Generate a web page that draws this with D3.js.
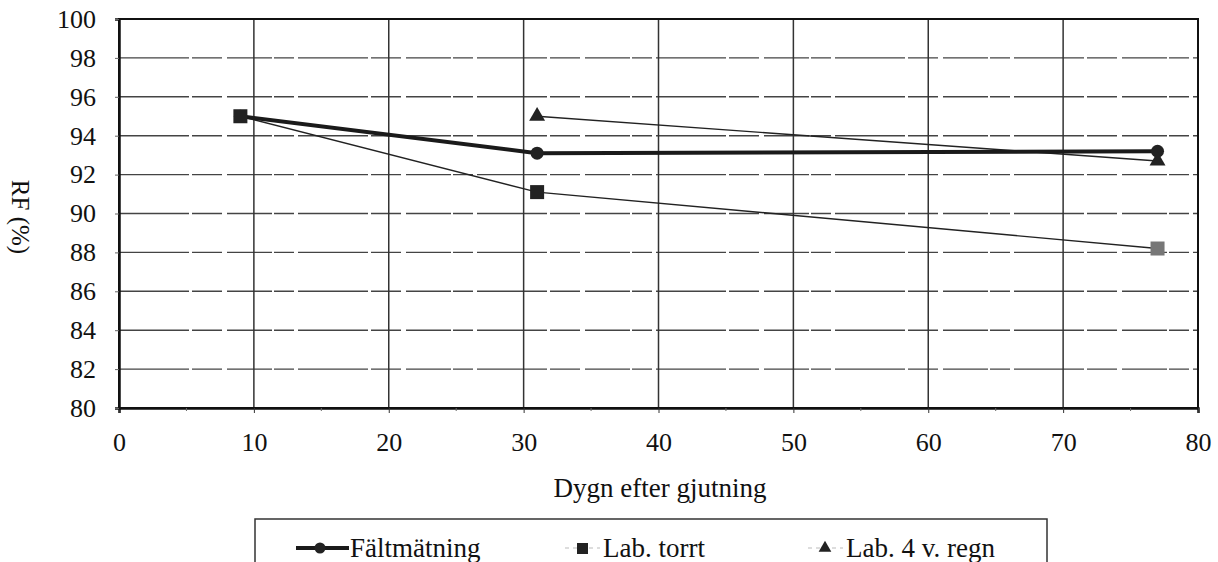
<!DOCTYPE html>
<html>
<head>
<meta charset="utf-8">
<script src="https://cdn.jsdelivr.net/npm/d3@7"></script>
<style>
  body { margin: 0; background: #fff; }
  svg text { font-family: "Liberation Serif", "Times New Roman", serif !important; fill: #111; }
</style>
</head>
<body>
<svg id="chart" width="1218" height="562"></svg>
<script>
const xTicks = [0, 10, 20, 30, 40, 50, 60, 70, 80];
const yTicks = [80, 82, 84, 86, 88, 90, 92, 94, 96, 98, 100];

const faltDays = [9, 31, 77];
const faltRF = [95.0, 93.1, 93.2];

const torrtDays = [9, 31, 77];
const torrtRF = [95.0, 91.1, 88.2];

const regnDays = [31, 77];
const regnRF = [95.0, 92.7];

const seriesNames = ["Fältmätning", "Lab. torrt", "Lab. 4 v. regn"];
const xTitle = "Dygn efter gjutning";
const yTitle = "RF (%)";

const svg = d3.select("#chart");
const L = 119, R = 1198, T = 19, B = 408;
const x = d3.scaleLinear().domain([0, 80]).range([L, R]);
const y = d3.scaleLinear().domain([80, 100]).range([B, T]);
const serif = "'Liberation Serif', 'Times New Roman', serif";

// horizontal gridlines
svg.append("g").selectAll("line").data(yTicks.filter(d => d > 80 && d < 100)).join("line")
  .attr("x1", L).attr("x2", R).attr("y1", d => y(d)).attr("y2", d => y(d))
  .attr("stroke", "#444").attr("stroke-width", 1.4)
  .attr("stroke-dasharray", "70,3,30,5,45,2,20,4");
// vertical gridlines
svg.append("g").selectAll("line").data(xTicks.filter(d => d > 0 && d < 80)).join("line")
  .attr("y1", T).attr("y2", B).attr("x1", d => x(d)).attr("x2", d => x(d))
  .attr("stroke", "#333").attr("stroke-width", 1.5);

// border
svg.append("rect").attr("x", L).attr("y", T).attr("width", R - L).attr("height", B - T)
  .attr("fill", "none").attr("stroke", "#111").attr("stroke-width", 2);

// axes
const xAxis = d3.axisBottom(x).tickValues(xTicks).tickSize(5).tickFormat(d3.format("d"));
const gx = svg.append("g").attr("transform", `translate(0,${B})`).call(xAxis)
  .attr("font-family", serif).attr("font-size", 26);
gx.select(".domain").attr("stroke", "#111").attr("stroke-width", 2.5);
gx.selectAll(".tick line").attr("stroke", "#333");
gx.selectAll(".tick text").attr("dy", "1.35em").style("font-family", serif).style("font-size", "26px");
// minor x ticks
svg.append("g").selectAll("line").data(d3.range(5, 80, 10)).join("line")
  .attr("x1", d => x(d)).attr("x2", d => x(d)).attr("y1", B).attr("y2", B + 3)
  .attr("stroke", "#666");

const yAxis = d3.axisLeft(y).tickValues(yTicks).tickSize(4).tickPadding(19);
const gy = svg.append("g").attr("transform", `translate(${L},0)`).call(yAxis)
  .attr("font-family", serif).attr("font-size", 26);
gy.select(".domain").attr("stroke", "#111").attr("stroke-width", 2.5);
gy.selectAll(".tick line").attr("stroke", "#666");
gy.selectAll(".tick text").style("font-family", serif).style("font-size", "26px");

// titles
svg.append("text").attr("x", 660).attr("y", 497).attr("text-anchor", "middle")
  .style("font-family", serif).style("font-size", "27px").text(xTitle);
svg.append("text").attr("transform", "translate(12,217) rotate(90)")
  .attr("text-anchor", "middle").style("font-family", serif).style("font-size", "25px").text(yTitle);

// lines
const line = d3.line().x(d => x(d[0])).y(d => y(d[1]));
const falt = faltDays.map((d, i) => [d, faltRF[i]]);
const torrt = torrtDays.map((d, i) => [d, torrtRF[i]]);
const regn = regnDays.map((d, i) => [d, regnRF[i]]);

svg.append("path").datum(regn).attr("d", line).attr("fill", "none")
  .attr("stroke", "#222").attr("stroke-width", 1.4);
svg.append("path").datum(torrt).attr("d", line).attr("fill", "none")
  .attr("stroke", "#222").attr("stroke-width", 1.4);
svg.append("path").datum(falt).attr("d", line).attr("fill", "none")
  .attr("stroke", "#1a1a1a").attr("stroke-width", 4);

// markers
svg.append("g").selectAll("circle").data(falt).join("circle")
  .attr("cx", d => x(d[0])).attr("cy", d => y(d[1])).attr("r", 6.5)
  .attr("fill", "#222");
svg.append("g").selectAll("rect").data(torrt).join("rect")
  .attr("x", d => x(d[0]) - 7).attr("y", d => y(d[1]) - 7)
  .attr("width", 14).attr("height", 14)
  .attr("fill", (d, i) => i === torrt.length - 1 ? "#777" : "#222");
const tri = d3.symbol().type(d3.symbolTriangle).size(110);
svg.append("g").selectAll("path").data(regn).join("path")
  .attr("transform", d => `translate(${x(d[0])},${y(d[1])})`)
  .attr("d", tri).attr("fill", "#222");

// legend
const lg = svg.append("g");
lg.append("rect").attr("x", 255).attr("y", 519).attr("width", 792).attr("height", 60)
  .attr("fill", "none").attr("stroke", "#333").attr("stroke-width", 1.5);
const ly = 548;
lg.append("line").attr("x1", 296).attr("x2", 349).attr("y1", ly).attr("y2", ly)
  .attr("stroke", "#1a1a1a").attr("stroke-width", 4);
lg.append("circle").attr("cx", 320).attr("cy", ly).attr("r", 5.5).attr("fill", "#222");
lg.append("text").attr("x", 350).attr("y", ly + 9).style("font-family", serif).style("font-size", "27px").text(seriesNames[0]);
lg.append("line").attr("x1", 565).attr("x2", 600).attr("y1", ly).attr("y2", ly)
  .attr("stroke", "#bbb").attr("stroke-width", 1).attr("stroke-dasharray", "4,4");
lg.append("rect").attr("x", 577).attr("y", ly - 5).attr("width", 11).attr("height", 11).attr("fill", "#222");
lg.append("text").attr("x", 603).attr("y", ly + 9).style("font-family", serif).style("font-size", "27px").text(seriesNames[1]);
lg.append("line").attr("x1", 808).attr("x2", 843).attr("y1", ly).attr("y2", ly)
  .attr("stroke", "#bbb").attr("stroke-width", 1).attr("stroke-dasharray", "4,4");
lg.append("path").attr("transform", `translate(825,${ly})`)
  .attr("d", d3.symbol().type(d3.symbolTriangle).size(70)).attr("fill", "#222");
lg.append("text").attr("x", 846).attr("y", ly + 9).style("font-family", serif).style("font-size", "27px").text(seriesNames[2]);
</script>
</body>
</html>
